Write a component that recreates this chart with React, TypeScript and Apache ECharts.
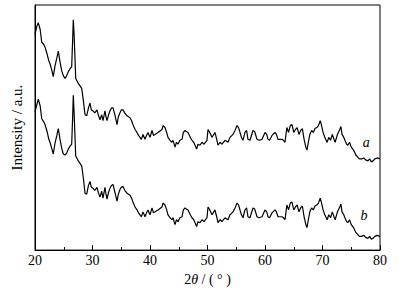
import React, { useEffect, useRef } from "react";
import * as echarts from "echarts";

const xTicks = [20, 30, 40, 50, 60, 70, 80];

const angles = [
  20.0, 20.3, 20.57, 20.9, 21.17, 21.5, 21.74, 22.1, 22.4, 22.61, 22.9, 23.18, 23.48, 23.8, 24.05, 24.35,
  24.64, 24.92, 25.22, 25.51, 25.79, 26.1, 26.38, 26.55, 26.66, 26.8, 27.08, 27.53, 28.12, 28.4, 28.7, 28.99,
  29.3, 29.57, 29.8, 30.09, 30.4, 30.78, 31.0, 31.3, 31.6, 31.83, 32.17, 32.35, 32.52, 32.8, 33.04, 33.3,
  33.57, 33.9, 34.26, 34.5, 34.78, 35.0, 35.3, 35.6, 36.0, 36.52, 36.8, 37.04, 37.4, 37.74, 38.0, 38.26,
  38.5, 38.78, 39.13, 39.4, 39.65, 40.0, 40.35, 40.6, 40.87, 41.39, 42.09, 42.26, 42.61, 42.9, 43.13, 43.48,
  43.8, 44.0, 44.35, 44.6, 44.87, 45.2, 45.57, 45.8, 46.09, 46.3, 46.61, 47.0, 47.3, 47.6, 47.83, 48.1,
  48.35, 48.7, 49.04, 49.4, 49.91, 50.09, 50.4, 50.78, 51.3, 51.6, 51.83, 52.2, 52.52, 53.04, 53.57, 53.91,
  54.43, 54.78, 55.13, 55.4, 55.65, 55.9, 56.17, 56.52, 56.8, 57.04, 57.39, 57.91, 58.2, 58.61, 59.0, 59.48,
  60.0, 60.3, 60.52, 60.8, 61.22, 61.74, 62.0, 62.26, 62.96, 63.2, 63.48, 63.8, 64.1, 64.4, 64.7, 65.0,
  65.3, 65.6, 65.9, 66.2, 66.5, 66.8, 67.1, 67.3, 67.6, 67.8, 68.1, 68.4, 68.7, 69.0, 69.3, 69.6,
  69.8, 70.1, 70.4, 70.8, 71.1, 71.4, 71.7, 72.0, 72.2, 72.6, 73.0, 73.2, 73.4, 73.7, 73.9, 74.2,
  74.4, 74.7, 75.0, 75.4, 75.8, 76.1, 76.4, 76.8, 77.2, 77.5, 77.9, 78.2, 78.5, 78.8, 79.1, 79.5, 80.0,
];

const intensityA = [
  220, 228, 232, 225, 212, 210, 207, 200, 193, 190, 184, 177, 188, 196, 203, 192,
  183, 178, 175, 178, 182, 185, 187, 215, 235, 220, 175, 170, 165, 153, 138, 137,
  145, 150, 143, 142, 140, 143, 138, 133, 138, 132, 142, 136, 132, 138, 142, 145,
  145, 138, 128, 136, 140, 143, 143, 140, 137, 135, 132, 128, 123, 120, 117, 115,
  113, 118, 113, 117, 120, 115, 122, 117, 118, 120, 123, 127, 125, 120, 115, 112,
  110, 112, 105, 110, 108, 112, 113, 120, 122, 121, 120, 115, 112, 110, 107, 103,
  108, 107, 110, 108, 112, 123, 120, 115, 120, 113, 107, 110, 108, 112, 110, 115,
  118, 122, 127, 125, 120, 115, 112, 120, 122, 113, 112, 122, 121, 113, 112, 113,
  120, 118, 113, 112, 117, 120, 118, 113, 113, 112, 110, 125, 120, 127, 128, 120,
  123, 125, 118, 122, 124, 113, 105, 102, 112, 118, 122, 120, 124, 125, 127, 132,
  128, 120, 115, 110, 115, 112, 118, 113, 110, 118, 123, 126, 118, 115, 112, 108,
  107, 110, 105, 102, 97, 95, 93, 93, 94, 92, 91, 93, 90, 91, 93, 94, 93,
];

const intensityB = [
  141, 148, 154, 147, 134, 131, 128, 121, 113, 110, 104, 98, 109, 117, 124, 113,
  104, 98, 97, 99, 103, 106, 108, 136, 158, 140, 96, 91, 86, 74, 58, 57,
  66, 70, 64, 63, 61, 64, 59, 54, 60, 53, 64, 57, 52, 59, 63, 66,
  67, 59, 50, 57, 62, 64, 65, 61, 58, 56, 53, 49, 44, 41, 38, 36,
  34, 39, 34, 38, 41, 36, 43, 38, 39, 41, 44, 48, 46, 41, 36, 33,
  31, 33, 26, 31, 29, 33, 34, 41, 43, 42, 41, 36, 33, 31, 28, 24,
  29, 28, 31, 29, 33, 44, 41, 36, 41, 34, 28, 31, 29, 33, 31, 36,
  39, 43, 48, 46, 41, 36, 33, 41, 43, 34, 33, 43, 42, 34, 33, 34,
  41, 39, 34, 33, 38, 41, 39, 34, 34, 33, 31, 46, 41, 48, 49, 41,
  44, 46, 39, 43, 45, 34, 26, 23, 33, 39, 43, 41, 45, 46, 48, 53,
  49, 41, 36, 31, 36, 33, 39, 34, 31, 39, 44, 47, 39, 36, 33, 29,
  28, 31, 26, 23, 18, 16, 14, 14, 15, 13, 12, 14, 11, 12, 14, 15, 14,
];

const curveLabels = [
  { name: "a", coord: [77.6, 110] },
  { name: "b", coord: [77.2, 35] },
];

const SERIF = "Liberation Serif";

export default function App() {
  const ref = useRef<HTMLDivElement>(null);
  useEffect(() => {
    if (!ref.current) return;
    const chart = echarts.init(ref.current, undefined, { renderer: "svg" });
    const seriesA = angles.map((x, i) => [x, intensityA[i]]);
    const seriesB = angles.map((x, i) => [x, intensityB[i]]);
    const mk = (idx: number) => ({
      symbol: "circle",
      symbolSize: 0,
      silent: true,
      data: [
        {
          coord: curveLabels[idx].coord,
          label: {
            show: true,
            position: "inside",
            formatter: curveLabels[idx].name,
            fontFamily: SERIF,
            fontStyle: "italic",
            fontSize: 14,
            color: "#000",
          },
        },
      ],
    });
    chart.setOption({
      animation: false,
      grid: {
        left: 35,
        right: 29,
        top: 5,
        bottom: 36,
        show: true,
        borderColor: "#000",
        borderWidth: 1,
        backgroundColor: "transparent",
      },
      xAxis: {
        type: "value",
        min: 20,
        max: 80,
        interval: 10,
        name: "{n|2}{i|θ}{n| / ( ° )}",
        nameLocation: "middle",
        nameGap: 19,
        nameTextStyle: {
          rich: {
            n: { fontFamily: SERIF, fontSize: 14, color: "#000" },
            i: { fontFamily: SERIF, fontSize: 14, fontStyle: "italic", color: "#000" },
          },
        },
        axisLine: { lineStyle: { color: "#000", width: 1 } },
        axisTick: { show: true, inside: true, length: 5, lineStyle: { color: "#000" } },
        minorTick: { show: true, splitNumber: 2, length: 3, lineStyle: { color: "#000" } },
        splitLine: { show: false },
        axisLabel: {
          color: "#000",
          fontFamily: SERIF,
          fontSize: 14,
          margin: 3,
          customValues: xTicks,
        },
      },
      yAxis: {
        type: "value",
        min: 0,
        max: 250,
        name: "Intensity / a.u.",
        nameLocation: "middle",
        nameGap: 11,
        nameTextStyle: { fontFamily: SERIF, fontSize: 15, color: "#000" },
        axisLine: { show: true, lineStyle: { color: "#000", width: 1 } },
        axisTick: { show: false },
        axisLabel: { show: false },
        splitLine: { show: false },
      },
      series: [
        {
          type: "line",
          data: seriesA,
          showSymbol: false,
          lineStyle: { color: "#000", width: 1.2 },
          markPoint: mk(0),
        },
        {
          type: "line",
          data: seriesB,
          showSymbol: false,
          lineStyle: { color: "#000", width: 1.2 },
          markPoint: mk(1),
        },
      ],
    });
    return () => chart.dispose();
  }, []);
  return <div ref={ref} style={{ width: 409, height: 291, position: "absolute", left: 0, top: 0 }} />;
}
